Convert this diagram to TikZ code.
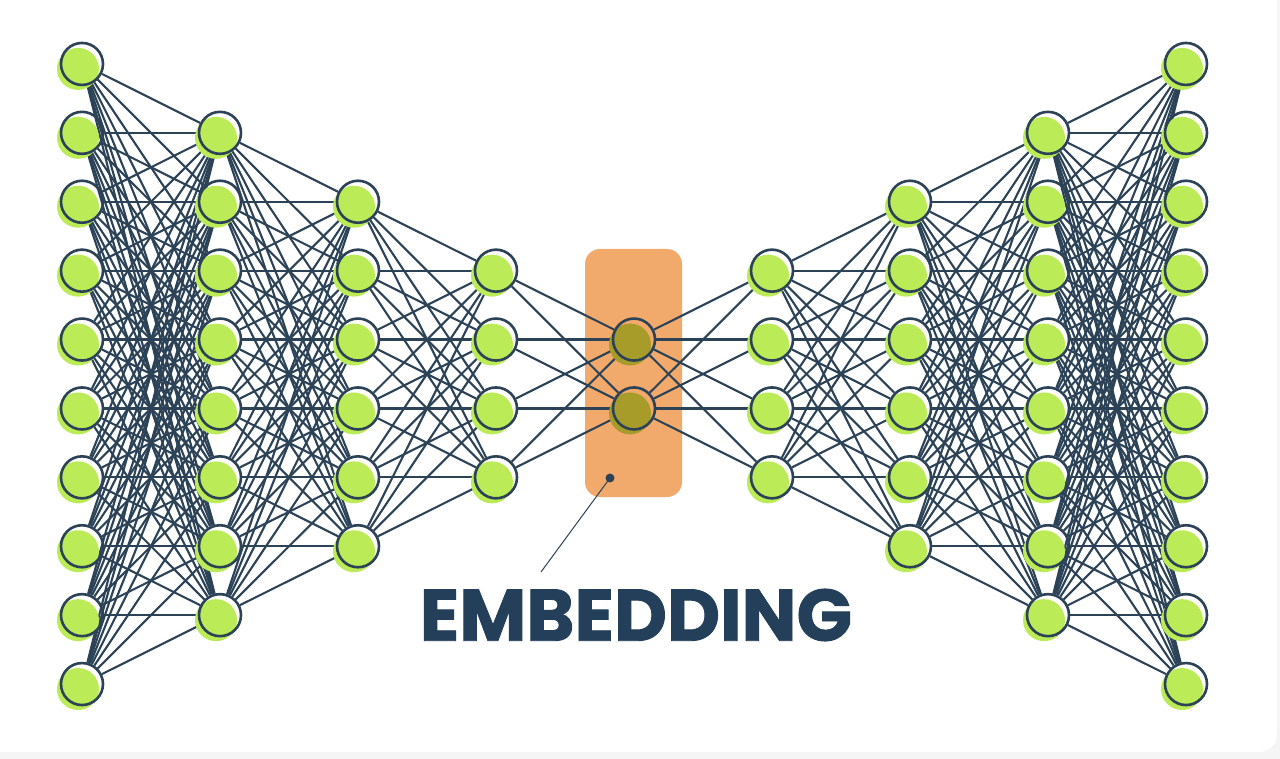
\documentclass[tikz,border=0pt]{standalone}
\usepackage{fontspec}
\newfontfamily\poppins[FakeBold=1.2]{Poppins}
\definecolor{edgec}{HTML}{2B4257}
\definecolor{lime}{HTML}{BCEB58}
\definecolor{olivec}{HTML}{A79B2A}
\definecolor{orangebox}{HTML}{F2AA6C}
\definecolor{txt}{HTML}{243F5A}
\pgfdeclarelayer{back}
\pgfdeclarelayer{bg}
\pgfdeclarelayer{mid}
\pgfsetlayers{back,bg,mid,main}
\begin{document}
\begin{tikzpicture}[x=1pt,y=-1pt,
  neuron/.style={circle, draw=edgec, line width=2.6pt, minimum size=42pt, inner sep=0pt},
  link/.style={draw=edgec, line width=2.1pt},
  disc/.style={fill=lime},
  embdisc/.style={fill=olivec}]
\useasboundingbox (0,0) rectangle (1280,759);
\begin{pgfonlayer}{back}
\fill[black!4] (0,0) rectangle (1280,759);
\fill[white, rounded corners=18pt] (-30,-30) rectangle (1277,752);
\end{pgfonlayer}
% embedding box
\begin{pgfonlayer}{bg}
\node[fill=orangebox, rounded corners=15pt, minimum width=97pt, minimum height=248pt, inner sep=0pt] (box) at (633.5,373) {};
\end{pgfonlayer}
% neurons
\def\sp{68.9}
\foreach \i/\x/\n in {1/82/10,2/220/8,3/358/6,4/496/4,5/634/2,6/772/4,7/910/6,8/1048/8,9/1186/10} {
  \foreach \j in {1,...,\n} {
    \node[neuron] (L\i-\j) at (\x, {374+(\j-(\n+1)/2)*\sp}) {};
    \begin{pgfonlayer}{mid}
      \ifnum\i=5
        \fill[embdisc] ([shift={(-4,5)}]L\i-\j.center) circle (21pt);
      \else
        \fill[disc] ([shift={(-4,5)}]L\i-\j.center) circle (21pt);
      \fi
    \end{pgfonlayer}
  }
}
% connections
\begin{pgfonlayer}{bg}
\foreach \i/\n/\k/\m in {1/10/2/8, 2/8/3/6, 3/6/4/4, 4/4/5/2, 5/2/6/4, 6/4/7/6, 7/6/8/8, 8/8/9/10} {
  \foreach \a in {1,...,\n} {
    \foreach \b in {1,...,\m} {
      \draw[link] (L\i-\a) -- (L\k-\b);
    }
  }
}
\end{pgfonlayer}
% label
\node[text=txt, font=\poppins\bfseries\fontsize{73}{73}\selectfont, inner sep=0pt] (emb) at (636,615) {EMBEDDING};
\coordinate (dot) at (610,478);
\coordinate (ptr) at (541,572);
\fill[edgec] (dot) circle (4.5pt);
\draw[edgec, line width=1pt] (dot) -- (ptr);
\end{tikzpicture}
\end{document}
